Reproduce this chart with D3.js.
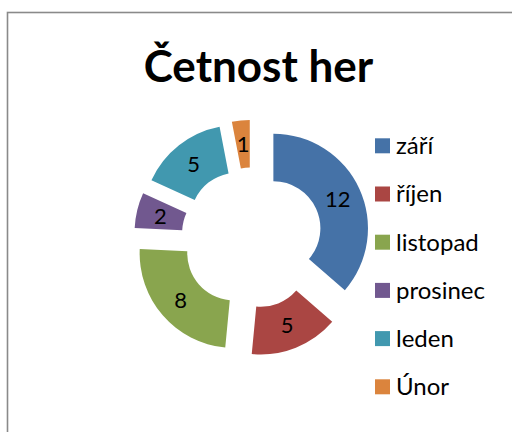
<!DOCTYPE html>
<html><head><meta charset="utf-8">
<script src="https://cdn.jsdelivr.net/npm/d3@7"></script>
<style>html,body{margin:0;padding:0;background:#fff;}svg{display:block;}</style>
</head><body>
<svg id="c" width="512" height="432"></svg>
<script>
const title = "Četnost her";
const categories = ["září", "říjen", "listopad", "prosinec", "leden", "Únor"];
const values = [12, 5, 8, 2, 5, 1];
const colors = ["#4572A7", "#AA4643", "#89A54E", "#71588F", "#4198AF", "#DB843D"];

const svg = d3.select("#c");
const font = "Lato, 'Open Sans', sans-serif";

svg.append("rect").attr("x", 7.5).attr("y", 12.5).attr("width", 520).attr("height", 440)
  .attr("fill", "#fff").attr("stroke", "#8a8a8a").attr("stroke-width", 1.6);

svg.append("text").attr("x", 258.5).attr("y", 82).attr("text-anchor", "middle")
  .attr("font-family", font).attr("font-weight", "bold").attr("font-size", 44)
  .attr("fill", "#000").text(title);

const cx = 252, cy = 238, R = 94.6, r = 47, explode = 23.5;
const data = categories.map((c, i) => ({cat: c, value: values[i], color: colors[i]}));
const pie = d3.pie().value(d => d.value).sort(null);
const arc = d3.arc().innerRadius(r).outerRadius(R);
const arcs = pie(data);

const g = svg.append("g").attr("transform", `translate(${cx},${cy})`);
const sl = g.selectAll("g.s").data(arcs).join("g").attr("class", "s")
  .attr("transform", d => {
    const a = (d.startAngle + d.endAngle) / 2;
    return `translate(${explode * Math.sin(a)},${-explode * Math.cos(a)})`;
  });
sl.append("path").attr("d", arc).attr("fill", d => d.data.color);
sl.append("text")
  .attr("transform", d => `translate(${arc.centroid(d)})`)
  .attr("text-anchor", "middle").attr("dy", "0.36em")
  .attr("font-family", font).attr("font-size", 22).attr("fill", "#000")
  .text(d => d.data.value);

const lg = svg.append("g");
const y0 = 145.8, step = 48.2;
const item = lg.selectAll("g").data(data).join("g")
  .attr("transform", (d, i) => `translate(375,${y0 + i * step})`);
item.append("rect").attr("x", 0).attr("y", -7.5).attr("width", 15).attr("height", 15)
  .attr("fill", d => d.color);
item.append("text").attr("x", 21).attr("y", 0).attr("dy", "0.35em")
  .attr("font-family", font).attr("font-size", 24).attr("fill", "#000")
  .text(d => d.cat);
</script>
</body></html>
